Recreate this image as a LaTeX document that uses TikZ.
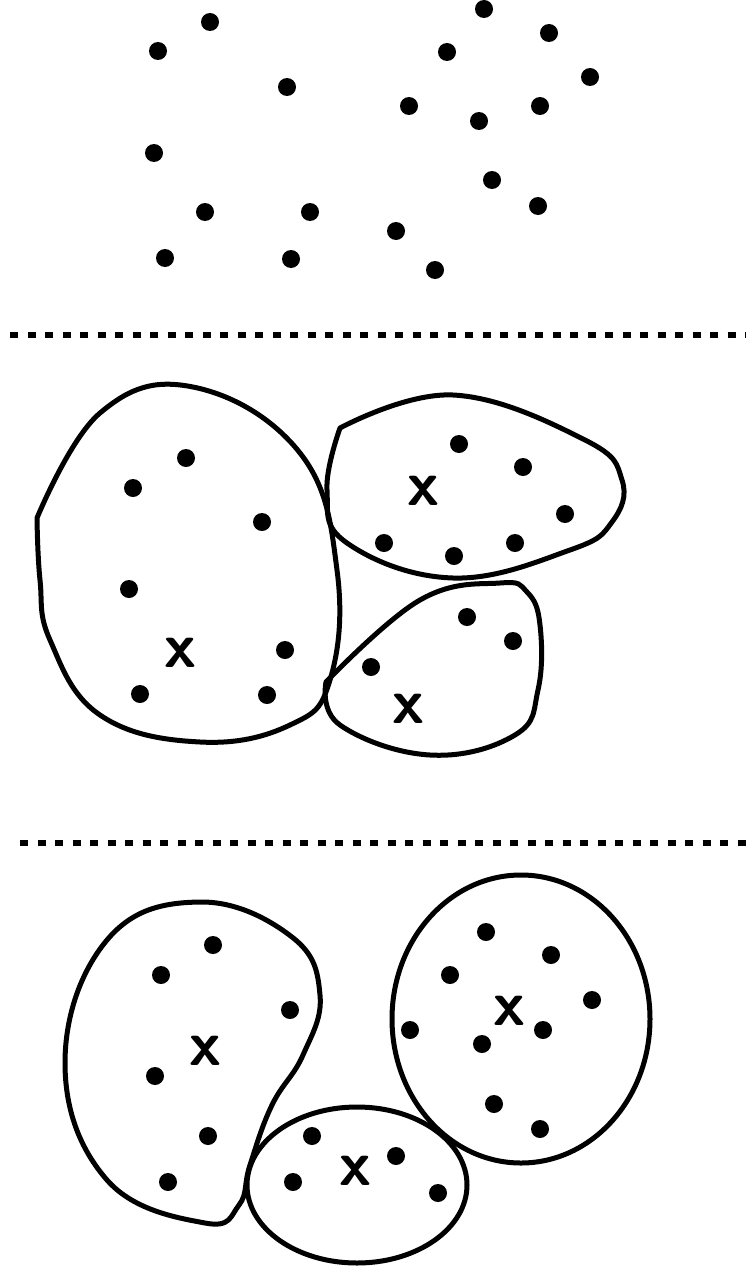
\documentclass[tikz,border=0pt]{standalone}
\begin{document}
\begin{tikzpicture}[x=0.5pt,y=-0.5pt,
    pt/.style={fill=black},
    blob/.style={draw=black, line width=2.5pt, line join=round},
    sepline/.style={line width=3pt, dash pattern=on 4pt off 4.75pt},
    centre/.style={font=\sffamily\bfseries\fontsize{32}{32}\selectfont, inner sep=0pt}]
  \useasboundingbox (0,0) rectangle (746,1268);
  % raw data points
  \foreach \u/\v in {210/22, 158/51, 287/87, 154/153, 205/212, 310/212, 165/258, 291/259,
                     484/9, 549/33, 447/52, 590/77, 409/106, 479/121, 540/106, 492/180,
                     538/206, 396/231, 435/270}{
    \fill[pt] (\u,\v) circle[radius=4.5pt];
  }
  \draw[sepline] (10,335) -- (746,335);
  % first grouping, three clusters (open smooth plots keep the corners)
  \draw[blob] plot[smooth, tension=0.7] coordinates {(37,518) (100,413) (193,387) (300,453)
      (337,570) (330,680) (290,725) (200,742) (100,715) (50,640) (40,580) (37,518)} -- cycle;
  \draw[blob] plot[smooth, tension=0.7] coordinates {(340,428) (453,395) (585,440) (622,480)
      (612,522) (570,550) (453,578) (347,543) (327,490) (340,428)} -- cycle;
  \draw[blob] plot[smooth, tension=0.7] coordinates {(326,682) (420,600) (500,583) (527,592)
      (540,625) (538,690) (515,735) (430,755) (340,725) (326,682)} -- cycle;
  \foreach \u/\v in {186/458, 133/488, 262/522, 129/589, 285/650, 140/694, 267/695,
                     459/444, 523/467, 565/514, 384/543, 454/556, 515/543,
                     467/617, 513/641, 371/667}{
    \fill[pt] (\u,\v) circle[radius=4.5pt];
  }
  \node[centre] (ca) at (180,653) {x};
  \node[centre] (cb) at (423,491) {x};
  \node[centre] (cc) at (408,709) {x};
  \draw[sepline] (20,843) -- (746,843);
  % second grouping after moving the centres
  \draw[blob] plot[smooth cycle, tension=0.7] coordinates {(200,902) (292,937) (320,995) (303,1055)
      (272,1105) (250,1165) (239,1205) (205,1223) (107,1180) (65,1063) (107,940)};
  \draw[blob] (357,1185) ellipse[x radius=110, y radius=78];
  \draw[blob] (521,1019) ellipse[x radius=129, y radius=144];
  \foreach \u/\v in {213/945, 161/975, 290/1010, 155/1076, 208/1136, 168/1182,
                     312/1136, 396/1156, 293/1182, 438/1193,
                     486/932, 551/955, 450/975, 592/1000, 410/1030, 482/1044, 543/1030,
                     494/1104, 540/1129}{
    \fill[pt] (\u,\v) circle[radius=4.5pt];
  }
  \node[centre] (cd) at (205,1051) {x};
  \node[centre] (ce) at (355,1171) {x};
  \node[centre] (cf) at (509,1011) {x};
\end{tikzpicture}
\end{document}
